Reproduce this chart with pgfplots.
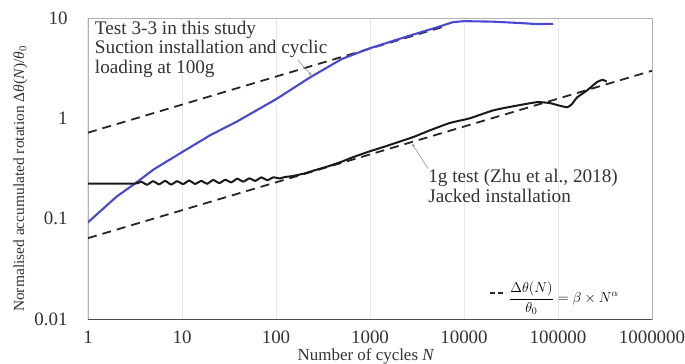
\documentclass[border=0pt]{standalone}
\usepackage{fontspec}
\setmainfont{Liberation Serif}
\usepackage{pgfplots}
\usepackage{pgfplotstable}
\pgfplotsset{compat=1.18}
\usetikzlibrary{arrows.meta}

\definecolor{testblue}{RGB}{72,72,210}

% Test 3-3 (suction installation, cyclic loading at 100g)
\pgfplotstableread{
N      rot
1      0.092
2      0.165
3.16   0.224
5      0.31
10     0.46
20     0.68
38.5   0.93
100    1.55
229    2.55
500    3.9
1000   5.0
2680   6.7
5000   8.0
7650   9.1
10000  9.3
20000  9.2
40000  8.9
60000  8.7
89000  8.75
}\centrifuge

% 1g test, jacked installation (Zhu et al., 2018)
\pgfplotstableread{
N      rot
1      0.224
3.16   0.224
3.66   0.234
4.25   0.218
4.92   0.236
5.70   0.220
6.61   0.238
7.66   0.219
8.87   0.236
10.3   0.221
11.9   0.240
13.8   0.222
16.0   0.238
18.5   0.223
21.5   0.243
24.9   0.226
28.8   0.244
33.4   0.230
38.7   0.250
44.9   0.234
52.0   0.252
60.3   0.238
69.8   0.258
80.9   0.242
93.8   0.258
110    0.252
124    0.260
150    0.266
200    0.282
247    0.300
350    0.330
500    0.370
660    0.410
1000   0.470
1500   0.530
2230   0.600
3000   0.660
4350   0.760
7100   0.900
11500  1.00
20400  1.20
35000  1.33
60000  1.45
81500  1.42
100000 1.35
125000 1.29
140000 1.38
160000 1.62
204000 1.90
260000 2.30
300000 2.42
330000 2.32
}\onegtest

\begin{document}
\begin{tikzpicture}
\useasboundingbox (-88bp,-45bp) rectangle (597bp,319bp);
\begin{loglogaxis}[
  scale only axis,
  width=564bp, height=301bp,
  at={(0,0)}, anchor=south west,
  xmin=1, xmax=1000000, ymin=0.01, ymax=10,
  xtick={1,10,100,1000,10000,100000,1000000},
  xticklabels={1,10,100,1000,10000,100000,1000000},
  ytick={0.01,0.1,1,10},
  yticklabels={0.01,0.1,1,10},
  xminorticks=false, yminorticks=false,
  major tick length=0pt,
  xmajorgrids,
  major x grid style={gray!18, line width=0.7bp},
  axis line style={gray!60, line width=0.9bp},
  tick label style={font=\fontsize{19}{19}\selectfont, text=black!80},
  xticklabel style={anchor=north, yshift=-8bp},
  yticklabel style={anchor=east, xshift=-17bp},
  xlabel={Number of cycles \textit{N}},
  xlabel style={at={(axis description cs:0.493,-0.125)}, anchor=center,
                font=\fontsize{17}{17}\selectfont, text=black!80},
  ylabel={Normalised accumulated rotation Δ\textit{θ}(\textit{N})/\textit{θ}\textsubscript{0}},
  ylabel style={at={(axis description cs:-0.12,0.466)}, anchor=center,
                font=\fontsize{15.5}{16}\selectfont, text=black!80},
  legend style={draw=none, fill=none, at={(axis description cs:0.95,0.086)},
                anchor=east, font=\fontsize{14}{14}\selectfont},
  legend image code/.code={\draw[#1] (-14bp,0bp) -- (2bp,0bp);},
]
% power-law trend lines: rotation = beta * N^alpha
\addlegendimage{black!85, line width=1.6bp, dash pattern=on 5bp off 3bp}
\addlegendentry{$\displaystyle\frac{\Delta\theta(N)}{\theta_0} = \beta\times N^{\alpha}$}

\addplot[black!85, line width=1.8bp, dash pattern=on 9bp off 6bp, forget plot]
  coordinates {(1,0.72) (6600,8.4)};
\addplot[black!85, line width=1.8bp, dash pattern=on 9bp off 6bp, forget plot]
  coordinates {(1,0.064) (1000000,2.98)};

\addplot[testblue, line width=2.1bp, forget plot] table[x=N, y=rot] {\centrifuge};
\addplot[black!90, line width=2bp, smooth, tension=0.3, forget plot]
  table[x=N, y=rot] {\onegtest};

% darker left and bottom axis lines
\draw[black!70, line width=1bp] (rel axis cs:0,1) -- (rel axis cs:0,0) -- (rel axis cs:1,0);

% annotations
\node[anchor=north west, align=left, inner sep=0pt, text=black!80,
      font=\fontsize{19.3}{19.5}\selectfont] at (rel axis cs:0.012,0.99)
  {Test 3-3 in this study\\Suction installation and cyclic\\loading at 100g};
\draw[gray!80, line width=0.6bp, -{Stealth[length=4bp,width=3bp]}]
  (axis cs:171,3.8) -- (axis cs:241,2.65);

\node[anchor=north west, align=left, inner sep=0pt, text=black!80,
      font=\fontsize{19.3}{19.5}\selectfont] at (rel axis cs:0.603,0.497)
  {1g test (Zhu et al., 2018)\\Jacked installation};
\draw[gray!80, line width=0.6bp, -{Stealth[length=4bp,width=3bp]}]
  (axis cs:4140,0.316) -- (axis cs:2800,0.56);
\end{loglogaxis}
\end{tikzpicture}
\end{document}
